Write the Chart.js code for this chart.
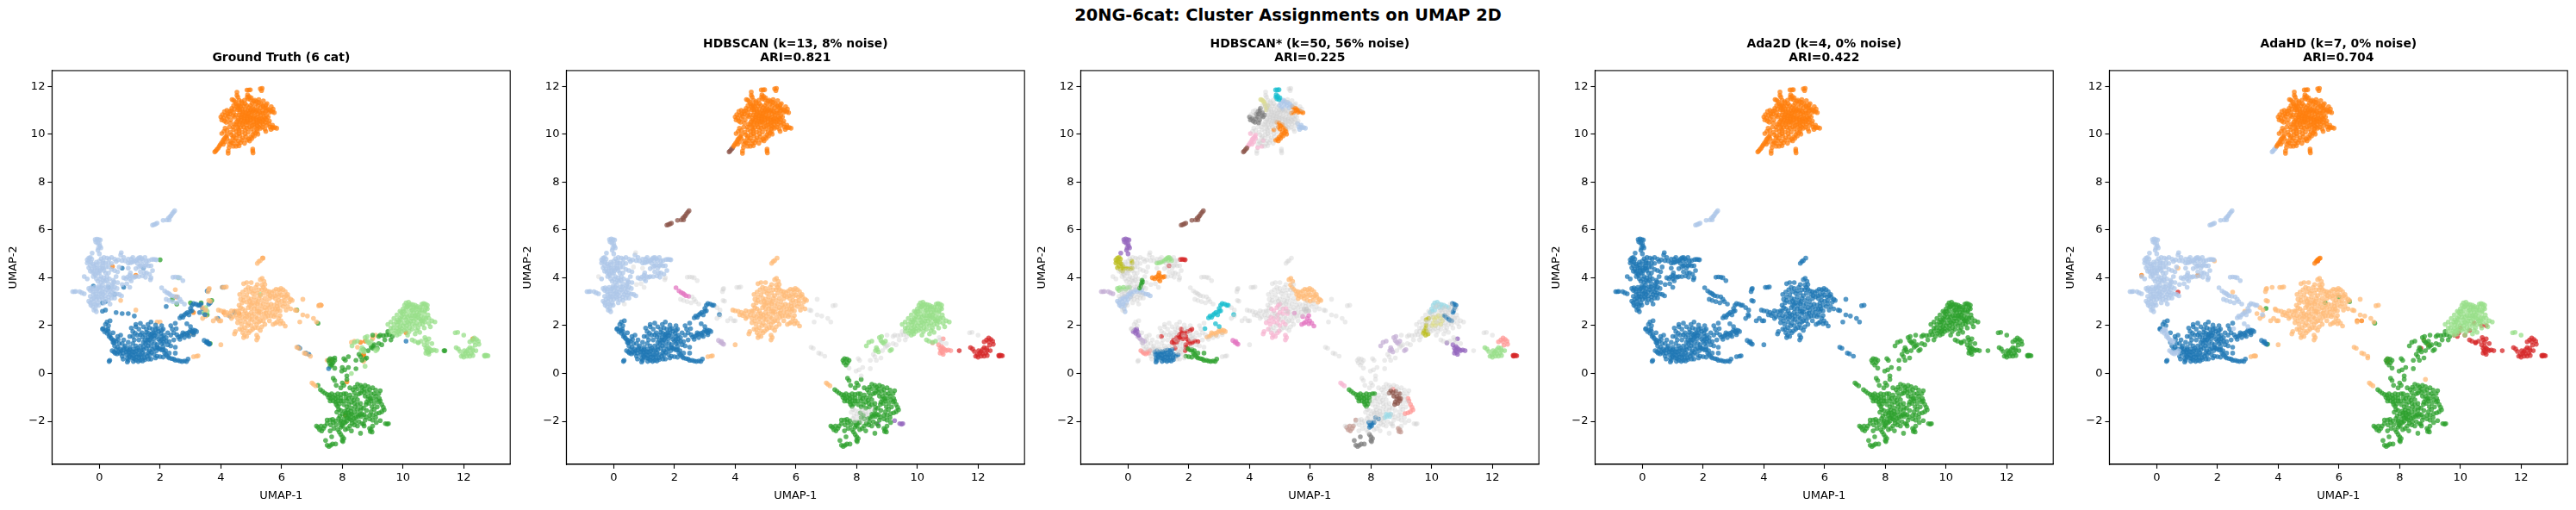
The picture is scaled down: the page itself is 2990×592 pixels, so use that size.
<!DOCTYPE html>
<html>
<head>
<meta charset="utf-8">
<script src="https://cdn.jsdelivr.net/npm/chart.js@4/dist/chart.umd.min.js"></script>
<style>
  html, body { margin: 0; padding: 0; background: #fff; }
  #page { position: relative; width: 2990px; height: 592px; overflow: hidden; }
  #page canvas { position: absolute; top: 0; }
  #suptitle { position: absolute; top: 6px; left: 0; width: 2990px; text-align: center;
    font: bold 19.4px "DejaVu Sans"; color: #000; }
</style>
</head>
<body>
<div id="page"><div id="suptitle">20NG-6cat: Cluster Assignments on UMAP 2D</div></div>
<script>
var titles = [
  ["Ground Truth (6 cat)"],
  ["HDBSCAN (k=13, 8% noise)", "ARI=0.821"],
  ["HDBSCAN* (k=50, 56% noise)", "ARI=0.225"],
  ["Ada2D (k=4, 0% noise)", "ARI=0.422"],
  ["AdaHD (k=7, 0% noise)", "ARI=0.704"]
];
var xTicks = [0, 2, 4, 6, 8, 10, 12];
var yTicks = [-2, 0, 2, 4, 6, 8, 10, 12];

// tab20
var blue = "#1f77b4", ltblue = "#aec7e8", orange = "#ff7f0e", ltorange = "#ffbb78", green = "#2ca02c",
    ltgreen = "#98df8a", red = "#d62728", salmon = "#ff9896", purple = "#9467bd", lilac = "#c5b0d5",
    brown = "#8c564b", tan = "#c49c94", orchid = "#e377c2", pink = "#f7b6d2", gray = "#7f7f7f",
    ltgray = "#c7c7c7", olive = "#bcbd22", khaki = "#dbdb8d", cyan = "#17becf", ltcyan = "#9edae5",
    noise = "noise";

// top blob
var topBrown = [[3.8,9.26],[3.83,9.3],[3.87,9.36],[3.91,9.42]];
var topPink = [[3.95,9.5],[3.98,9.56],[4.02,9.63],[4.06,9.7],[4.09,9.78],[4.13,9.84],[4.17,9.9],[4.2,9.82],[4.14,9.68],[4.08,9.58],[4.03,10.03],[4.2,9.97],[4.45,9.74],[4.41,9.5],[4.27,9.44]];
var topGray = [[4.0,10.72],[4.03,10.6],[4.08,10.67],[4.12,10.55],[4.18,10.5],[4.2,10.65],[4.25,10.75],[4.3,10.85],[4.34,10.98],[4.36,11.08],[4.28,10.95],[4.22,10.85],[4.4,10.78],[4.45,10.72],[4.33,10.6],[4.3,10.47],[4.5,10.8],[4.42,10.9]];
var topKhaki = [[4.37,11.45],[4.42,11.42],[4.47,11.36],[4.5,11.28],[4.52,11.18],[4.57,11.1],[4.6,11.2],[4.55,11.02]];
var topCyan = [[4.86,11.85],[4.92,11.85],[4.97,11.86],[4.88,11.65],[4.87,11.55],[4.9,11.48],[4.97,11.45],[4.93,11.58],[5.0,11.52]];
var topBlueA = [[4.98,11.2],[5.03,11.3],[5.08,11.38],[5.12,11.42],[5.18,11.36],[5.25,11.33],[5.32,11.28],[5.15,11.25],[5.22,11.18],[5.05,11.12],[5.1,11.05],[5.38,11.2],[5.3,11.1]];
var topBlueB = [[5.62,10.3],[5.68,10.3],[5.72,10.26],[5.78,10.28],[5.84,10.25],[5.65,10.2],[5.7,10.38],[5.58,10.45]];
var topOrangeA = [[5.4,11.15],[5.46,11.1],[5.52,11.08],[5.58,11.02],[5.64,10.98],[5.7,10.94],[5.76,10.9],[5.5,10.98],[5.6,10.92],[5.45,10.9],[5.38,10.88]];
var topOrangeB = [[4.9,10.5],[4.97,10.48],[5.02,10.36],[5.08,10.4],[4.95,10.3],[5.0,10.22],[5.12,10.28],[5.18,10.22],[5.2,10.12],[5.15,10.05],[5.22,10.0],[5.08,10.1],[5.05,9.98],[5.1,9.92],[4.98,9.88],[4.92,9.8],[4.86,9.75],[4.95,9.72],[5.02,9.82],[4.8,10.18]];
var topNoise = [[4.53,11.76],[4.53,11.62],[4.56,11.55],[5.3,11.9],[5.34,11.82],[5.36,11.92],[4.7,11.3],[4.8,11.28],[4.65,11.15],[4.75,11.18],[4.85,11.2],[4.92,11.12],[4.7,11.05],[4.8,11.04],[4.88,11.0],[4.98,11.02],[5.18,11.02],[5.25,10.98],[4.62,10.94],[4.72,10.95],[4.82,10.9],[4.92,10.88],[5.02,10.92],[5.12,10.9],[5.22,10.85],[5.32,10.8],[4.6,10.8],[4.7,10.82],[4.8,10.78],[4.9,10.76],[5.0,10.8],[5.1,10.76],[5.2,10.72],[5.3,10.68],[5.42,10.72],[5.5,10.78],[4.58,10.65],[4.68,10.68],[4.78,10.64],[4.88,10.62],[4.98,10.66],[5.08,10.62],[5.18,10.58],[5.28,10.55],[5.4,10.58],[5.5,10.6],[4.52,10.52],[4.62,10.5],[4.72,10.48],[4.82,10.5],[5.15,10.45],[5.28,10.42],[5.4,10.42],[4.55,10.32],[4.65,10.28],[4.75,10.3],[4.42,10.2],[4.5,10.12],[4.6,10.15],[4.7,10.08],[4.32,10.08],[4.35,9.98],[4.52,9.98],[4.62,9.92],[4.72,9.85],[4.4,9.85],[4.5,9.82],[4.58,9.72],[4.65,9.65],[4.55,9.6],[4.3,9.72],[4.24,9.3],[4.24,9.2],[5.05,9.38],[5.05,9.3],[5.06,9.22],[5.3,10.25],[5.25,10.3]];
var topExtra = [[4.58,11.22],[4.68,11.36],[4.78,11.42],[4.6,11.42],[4.42,11.2],[4.45,11.05],[4.15,10.8],[4.12,10.95],[4.05,10.82],[4.2,11.0],[4.62,11.02],[4.74,10.88],[4.86,10.84],[4.96,10.96],[5.06,10.98],[5.16,10.96],[5.28,10.9],[5.38,10.98],[4.66,10.74],[4.76,10.7],[4.86,10.7],[4.96,10.72],[5.06,10.7],[5.16,10.66],[5.26,10.62],[5.36,10.64],[5.46,10.66],[5.56,10.72],[5.6,10.55],[4.56,10.58],[4.66,10.58],[4.76,10.55],[4.86,10.55],[4.98,10.58],[5.08,10.52],[5.2,10.5],[5.34,10.5],[5.46,10.5],[5.52,10.38],[4.44,10.42],[4.5,10.4],[4.6,10.4],[4.72,10.4],[4.85,10.38],[5.2,10.36],[5.38,10.3],[4.4,10.3],[4.28,10.3],[4.14,10.25],[4.2,10.15],[4.1,10.12],[4.58,10.22],[4.86,10.25],[4.9,10.08],[4.8,10.02],[4.6,10.02],[4.42,9.92],[4.28,9.58],[4.34,9.65],[4.4,9.62],[4.5,9.5],[4.6,9.52],[4.7,9.75],[4.78,9.62],[4.82,9.9],[5.45,10.22],[5.48,10.12],[5.25,11.45],[5.4,11.4],[5.52,11.28],[5.66,11.15],[5.72,11.05],[5.48,11.22]];

var frag = [[1.75,6.2],[1.8,6.22],[1.85,6.25],[1.9,6.28],[2.1,6.4],[2.22,6.42],[2.28,6.5],[2.33,6.55],[2.36,6.6],[2.4,6.68],[2.44,6.74],[2.48,6.8],[2.3,6.42]];

// left cluster
var lPurple = [[-0.14,5.6],[-0.08,5.62],[-0.02,5.6],[0.03,5.58],[-0.12,5.5],[-0.06,5.45],[0,5.42],[0.02,5.32],[0.05,5.25],[-0.03,5.25],[0,5.0],[-0.24,5.03],[-0.05,5.15]];
var lOlive = [[-0.4,4.75],[-0.35,4.82],[-0.3,4.85],[-0.25,4.78],[-0.4,4.62],[-0.35,4.68],[-0.28,4.65],[-0.22,4.58],[-0.18,4.5],[-0.3,4.5],[-0.35,4.42],[-0.15,4.42],[-0.08,4.4],[0,4.38],[0.08,4.38],[0.13,4.4],[-0.25,4.35],[-0.18,4.28],[0.12,4.7],[0.13,4.62]];
var lGreenA = [[0.95,4.62],[1.02,4.63],[1.08,4.65],[1.15,4.68],[1.2,4.72],[1.25,4.78],[1.3,4.83],[1.35,4.85],[1.4,4.8],[1.32,4.72],[1.44,4.72]];
var lRed = [[1.72,4.76],[1.78,4.77],[1.84,4.76],[1.88,4.75],[1.35,4.5]];
var lOrange = [[0.8,4.0],[0.87,3.96],[0.93,4.03],[1.0,4.1],[1.02,4.2],[1.08,4.05],[1.15,4.02],[1.2,4.05],[1.0,3.95],[1.05,3.87]];
var lGreenDark = [[0.46,3.9],[0.48,3.82],[0.44,3.75],[0.42,3.66],[0.38,3.57]];
var lGreenB = [[-0.35,3.55],[-0.28,3.58],[-0.22,3.52],[-0.15,3.6],[-0.08,3.52],[-0.02,3.58],[0.05,3.6],[-0.3,3.47]];
var lLilac = [[-0.88,3.42],[-0.82,3.42],[-0.78,3.43],[-0.65,3.42],[-0.58,3.37],[-0.5,3.33]];
var lBlue = [[-0.35,3.02],[-0.3,2.95],[-0.25,3.1],[-0.2,3.0],[-0.28,2.85],[-0.22,2.8],[-0.15,2.9],[-0.1,3.1],[-0.05,3.2],[-0.12,3.22],[-0.18,3.15],[0,3.3],[0.05,3.35],[0.1,3.42],[0.18,3.4],[0.25,3.5],[0.3,3.42],[0.4,3.4],[0.5,3.35],[0.58,3.32],[0.66,3.3],[0.73,3.24],[0.45,3.5],[-0.1,2.85],[-0.05,2.95],[-0.13,2.7],[-0.1,2.58],[0.12,3.3],[0.08,3.2],[0,3.1]];
var lNoise = [[-0.1,4.65],[0,4.7],[0.06,4.8],[0.15,4.85],[0.25,4.82],[0.32,4.78],[0.4,4.85],[0.5,4.78],[0.55,4.68],[0.62,4.75],[0.7,4.95],[0.74,4.72],[0.8,4.85],[0.85,4.7],[1.5,4.5],[1.55,4.55],[1.62,4.5],[1.7,4.5],[1.75,4.3],[1.45,4.4],[1.3,4.45],[1.2,4.38],[1.55,4.2],[1.65,4.15],[0.3,4.45],[0.4,4.35],[0.5,4.3],[0.6,4.25],[0.3,4.2],[0.2,4.2],[0.25,4.05],[0.33,3.95],[0.15,4.0],[0.05,4.05],[0,4.2],[-0.05,3.85],[0.05,3.8],[0.1,3.7],[0.18,3.85],[0.3,3.75],[-0.02,3.65],[-0.4,3.95],[-0.12,4.1],[-0.05,4.2],[0.55,4.05],[0.6,3.8],[0.12,3.55],[0.22,3.62],[0.5,3.62],[0.58,3.55],[-0.1,3.45],[-0.2,3.3],[-0.3,3.22],[0.3,3.2],[0.4,3.15],[0.2,3.1]];
var lFringe = [[0.9,3.75],[1.0,3.6],[0.75,3.72],[-0.5,4.05],[1.7,4.0],[1.68,3.92],[0.35,2.9],[0.72,5.05],[0.95,4.4],[0.65,4.45]];
var lExtra = [[-0.3,4.28],[-0.22,4.22],[-0.15,4.15],[-0.2,4.05],[-0.1,3.95],[0.02,3.95],[0.12,3.9],[0.24,3.9],[-0.08,4.3],[0.03,4.3],[0.15,4.3],[0.22,4.45],[0.1,4.5],[0.02,4.55],[-0.1,4.55],[0.2,4.62],[0.3,4.62],[0.4,4.6],[0.95,4.78],[1.05,4.78],[1.1,4.85],[1.55,4.7],[1.62,4.72],[1.5,4.85],[1.25,4.6],[1.4,4.55],[1.48,4.2],[1.35,4.25],[1.3,4.05],[1.42,4.08],[1.52,4.02],[0.0,3.45],[-0.12,3.32],[0.2,3.25],[0.35,3.3],[0.45,3.28],[0.3,3.05],[0.15,2.95],[-0.02,2.85],[-0.18,2.65],[-0.22,3.42],[0.1,3.12],[0.5,3.15],[0.28,3.62]];

var stripOrchid = [[2.05,3.58],[2.15,3.45],[2.22,3.38],[2.28,3.35],[2.32,3.3],[2.38,3.25],[2.47,3.22]];
var stripNoise = [[2.42,4.02],[2.5,4.03],[2.58,4.02],[2.65,4.0],[2.75,3.88],[2.58,3.2],[2.65,3.1],[2.7,3.0],[2.2,3.1],[2.3,3.05],[2.42,3.0],[2.55,2.95],[2.8,2.9]];
var link = [[3.6,3.52],[3.62,3.55],[3.58,3.42],[3.6,3.05],[3.65,3.02],[4.05,3.6],[4.12,3.6],[4.18,3.62],[3.75,2.2],[3.95,2.2],[3.85,2.3],[4.0,2.2],[3.4,2.75],[3.5,2.65],[3.5,2.4],[3.4,2.3]];
var lowerLink = [[3.45,1.38],[3.52,1.3],[3.58,1.25],[3.62,1.22],[3.55,1.34]];
var tail = [[3.1,0.7],[3.2,0.72],[3.25,0.74],[4.0,1.2]];
var orphan = [[5.2,4.6],[5.25,4.68],[5.3,4.72],[5.38,4.82]];
var fringe = [[6.45,2.65],[6.5,2.63],[6.7,2.45],[6.6,2.15],[6.85,2.4],[7.05,2.3],[7.15,2.15],[7.22,2.83],[7.3,2.85],[6.7,3.1],[6.5,1.1],[6.57,1.05],[6.75,0.85],[6.82,0.82],[6.95,0.72]];

// blue cluster
var bCyan = [[2.65,2.32],[2.7,2.4],[2.75,2.35],[2.8,2.45],[2.85,2.5],[2.9,2.55],[2.95,2.45],[3.0,2.6],[3.05,2.62],[3.0,2.72],[3.05,2.85],[3.1,2.92],[3.18,2.9],[3.25,2.85],[3.3,2.85],[2.53,1.87],[3.0,1.96],[2.88,2.08],[3.48,2.46]];
var bTan = [[2.6,1.52],[2.67,1.55],[2.73,1.6],[2.8,1.65],[2.88,1.68],[2.95,1.72],[3.0,1.8],[3.08,1.82],[3.15,1.8],[3.2,1.75],[3.1,1.7],[2.9,1.6],[3.05,1.75],[2.75,1.7]];
var bGreen = [[1.98,1.03],[2.05,0.98],[2.1,1.0],[2.18,0.95],[2.15,0.85],[2.2,0.78],[2.25,0.7],[2.3,0.65],[2.38,0.62],[2.45,0.6],[2.5,0.55],[2.58,0.55],[2.65,0.52],[2.72,0.5],[2.8,0.52],[2.87,0.5],[2.92,0.6],[1.9,0.72],[2.0,0.7],[2.1,0.68],[2.5,0.85],[2.3,0.85]];
var bBlue = [[0.88,0.9],[0.95,0.95],[1.0,0.88],[1.08,0.92],[1.15,0.9],[1.22,0.95],[1.3,0.98],[1.38,0.96],[1.45,1.0],[0.9,0.78],[0.98,0.75],[1.05,0.8],[1.12,0.75],[1.2,0.8],[1.28,0.82],[1.35,0.78],[1.42,0.85],[1.5,0.8],[0.92,0.62],[1.0,0.68],[1.08,0.65],[1.15,0.62],[1.22,0.68],[1.3,0.66],[1.38,0.68],[1.48,0.66],[1.58,0.72],[1.65,0.78],[0.92,0.48],[0.95,0.55],[1.12,0.5],[1.2,0.55],[1.28,0.5],[1.35,0.55],[1.42,0.52],[1.5,0.58]];
var bRed = [[1.45,1.3],[1.52,1.25],[1.6,1.3],[1.65,1.4],[1.7,1.5],[1.75,1.55],[1.72,1.65],[1.68,1.6],[1.78,1.7],[1.75,1.85],[1.85,1.7],[1.9,1.55],[1.95,1.42],[2,1.35],[2.05,1.25],[2.12,1.3],[2.2,1.35],[2.3,1.33],[1.9,1.2],[1.9,1.1],[1.95,1.05],[1.88,0.95],[1.8,1.45],[1.95,1.75],[2.05,1.8],[2.1,1.85],[1.6,1.5],[1.5,1.4],[1.1,1.55],[1.55,1.05]];
var bPurple = [[0.17,1.75],[0.22,1.82],[0.28,1.85],[0.3,1.75],[0.25,1.68],[0.35,1.6]];
var bLilac = [[0.32,1.55],[0.38,1.48],[0.42,1.42],[0.48,1.38],[0.55,1.35],[0.48,1.28]];
var bSalmon = [[0.42,0.95],[0.48,0.9],[0.52,0.85],[0.58,0.82],[0.63,0.9],[0.68,0.85],[0.72,0.95]];
var bNoise = [[0.32,0.5],[0.34,0.55],[0.1,1.85],[0.12,1.88],[0.35,2.2],[0.25,2.15],[0.2,2.05],[0.3,2.0],[0.45,1.7],[0.6,1.55],[0.65,1.25],[0.6,1.1],[0.75,1.25],[0.8,1.4],[0.85,1.15],[1.0,1.1],[1.1,1.25],[1.2,1.15],[1.3,1.4],[1.25,1.6],[1.1,1.75],[1.05,1.9],[1.2,1.95],[1.3,1.85],[1.4,1.7],[1.35,2.1],[1.2,2.05],[1.45,1.95],[1.55,1.85],[1.6,2.05],[1.7,2.15],[2.05,1.55],[2.25,1.7],[2.35,1.6],[2.45,1.4],[2.5,1.1],[2.35,1.15],[2.35,2.0],[2.5,2.1],[2.4,1.85],[1.35,1.15],[1.7,1.15],[0.95,1.3],[0.7,1.6],[1.5,1.6],[1.0,1.55],[1.15,1.4],[0.9,1.0],[1.75,1.0],[1.65,0.95],[1.8,0.8],[1.7,0.6],[2.05,2.0],[1.85,2.02],[0.78,0.6],[0.75,0.72]];
var bExtra = [[0.5,1.15],[0.55,1.0],[0.68,1.02],[0.8,1.0],[0.78,0.85],[0.82,1.08],[0.45,1.3],[0.62,1.42],[1.0,1.0],[1.12,1.02],[1.25,1.05],[1.45,1.12],[1.6,1.15],[1.62,0.88],[1.72,0.88],[1.82,1.05],[1.58,1.4],[1.42,1.52],[1.35,1.62],[1.18,1.68],[1.62,1.68],[1.55,1.72],[1.82,1.6],[1.85,1.85],[1.65,1.9],[1.92,1.88],[2.02,1.68],[2.12,1.6],[2.2,1.5],[2.05,1.42],[2.12,1.45],[2.25,1.2],[2.1,1.12],[1.82,1.25],[1.72,1.32],[1.62,0.6],[1.85,0.65],[2.65,1.42],[2.8,1.5],[2.55,1.62],[2.45,1.7],[2.95,1.55],[3.1,1.62]];

// light orange cluster
var cOrange = [[5.3,3.92],[5.36,3.98],[5.42,3.85],[5.35,3.7],[5.4,3.6],[5.45,3.52],[5.52,3.45],[5.6,3.42],[5.68,3.38],[5.75,3.45],[5.82,3.52],[5.9,3.5],[5.98,3.55],[6.05,3.5],[6.12,3.42],[5.55,3.3],[5.62,3.25],[5.7,3.2],[5.78,3.25],[5.85,3.3],[5.92,3.22],[6,3.28],[6.08,3.2],[6.15,3.25],[6.22,3.18],[6.3,3.1],[6.35,3.05],[5.8,3.12],[5.9,3.05],[6,3.02],[6.1,3.05],[6.25,2.98],[5.95,3.4],[6.2,3.3],[5.6,3.12]];
var cPink = [[5.0,2.9],[4.95,2.85],[4.9,2.75],[4.8,2.62],[4.72,2.7],[5.1,2.7],[5.2,2.72],[5.25,2.6],[5.25,2.5],[5.1,2.5],[5.0,2.55],[4.92,2.45],[4.8,2.3],[4.7,2.35],[4.65,2.2],[4.55,2.12],[4.68,2.05],[4.8,2.15],[4.92,2.1],[5.0,2.0],[5.1,2.15],[5.18,2.05],[4.95,2.28],[4.62,1.85],[4.48,1.75],[4.45,1.65],[4.72,1.7],[4.78,1.6],[4.85,1.55],[4.92,1.7],[4.98,1.78],[4.75,1.5],[5.18,1.4],[5.22,1.5],[5.18,1.6]];
var cOrchid = [[5.72,2.05],[5.8,2.1],[5.85,2.15],[5.9,2.3],[5.95,2.42],[5.98,2.2],[6.05,2.1],[6.12,1.98],[5.95,2.08],[5.75,2.38],[5.48,2.52]];
var cGray = [[5.8,2.68],[5.88,2.7],[5.95,2.62],[5.85,2.6]];
var cNoise = [[3.92,2.65],[4.0,2.62],[4.1,2.6],[4.2,2.55],[4.3,2.5],[4.35,2.62],[4.45,2.58],[4.5,2.45],[4.4,2.38],[4.55,2.3],[4.6,2.6],[4.65,2.75],[4.6,2.85],[4.7,2.95],[4.65,3.1],[4.75,3.2],[4.62,3.3],[4.72,3.4],[4.85,3.3],[4.9,3.15],[5,3.1],[5.1,3.2],[5.15,3.05],[5.25,3.15],[5.3,3.25],[5.2,3.35],[5.1,3.45],[5,3.55],[4.9,3.6],[4.82,3.5],[5.25,3.5],[4.75,3.75],[4.85,3.8],[5.35,3.05],[5.4,2.9],[5.45,2.75],[5.5,2.65],[5.55,2.85],[5.65,2.9],[5.75,2.85],[5.7,2.7],[5.6,2.55],[5.55,2.4],[5.35,2.35],[5.4,2.2],[5.45,2.05],[5.35,1.95],[5.3,2.2],[5.6,2.2],[5.2,2.3],[5.3,1.8],[5.05,1.85],[6.05,2.8],[6.15,2.65],[6.3,2.7],[5.0,3.8],[5.85,2.95],[5.5,3.0]];
var cExtra = [[4.75,3.05],[4.85,2.98],[4.95,3.02],[5.05,2.95],[5.2,2.92],[5.3,2.85],[5.22,3.0],[5.12,2.85],[5.35,2.7],[5.3,2.55],[5.42,2.5],[5.48,2.35],[5.2,2.6],[5.0,2.72],[4.85,2.5],[4.75,2.5],[4.62,2.42],[4.85,2.38],[5.02,2.4],[5.15,2.35],[5.02,2.25],[5.25,2.15],[4.88,2.0],[4.78,1.92],[4.7,1.85],[4.85,1.78],[5.12,1.92],[5.22,1.9],[5.65,2.4],[5.7,2.55],[5.8,2.45],[5.85,2.8],[5.95,2.85],[6.1,2.92],[5.6,2.75],[6.2,2.8],[5.45,3.15],[5.4,3.35],[5.35,3.5],[5.45,3.72],[5.05,3.35],[4.95,3.42],[5.15,3.6],[5.2,3.72],[4.55,2.62],[4.25,2.42],[4.15,2.45],[4.35,2.3]];

// light green cluster
var dCyan = [[9.95,2.55],[10.0,2.7],[10.05,2.85],[10.1,2.95],[10.18,2.98],[10.25,2.9],[10.32,2.88],[10.4,2.85],[10.48,2.8],[10.55,2.75],[10.15,2.8],[10.25,2.75],[10.1,2.65],[10.02,2.6],[10.35,2.75]];
var dBlueA = [[10.68,2.92],[10.74,2.9],[10.8,2.85],[10.76,2.75],[10.72,2.62],[10.7,2.55]];
var dBlueB = [[10.42,2.42],[10.48,2.35],[10.55,2.28],[10.6,2.22],[10.66,2.2]];
var dKhaki = [[10.0,2.0],[10.05,2.1],[10.1,2.25],[10.15,2.35],[10.22,2.42],[10.28,2.3],[10.35,2.2],[10.2,2.1],[10.12,2.0],[10.3,2.05],[10.38,2.4],[10.05,2.35]];
var dOlive = [[9.72,1.68],[9.75,1.78],[9.8,1.88],[9.84,1.75],[9.88,1.65],[9.8,1.6],[9.82,2.02],[9.82,2.25],[9.9,2.3]];
var dNoise = [[9.5,2.05],[9.6,2.15],[9.7,2.3],[9.8,2.45],[9.9,2.6],[9.95,2.25],[10.45,2.55],[10.55,2.55],[10.62,2.65],[10.45,2.1],[10.55,2.05],[10.65,2.05],[10.75,2.3],[10.85,2.3],[10.95,2.2],[11.05,2.15],[10.85,2.1],[10.9,1.95],[10.7,1.9],[10.6,2.4],[9.6,1.9],[9.6,1.75],[9.68,1.9],[9.95,1.75],[10.05,1.8],[10.2,1.75],[10.3,1.85],[10.4,1.65],[10.5,1.9],[10.8,2.7],[10.65,2.8],[10.55,2.65],[10.35,2.55],[10.25,2.6],[9.85,2.15],[10.7,2.35],[10.15,1.6],[9.9,1.95]];
var dExtra = [[9.7,2.05],[9.78,2.15],[9.92,2.12],[9.95,2.4],[10.0,2.48],[10.12,2.48],[10.3,2.65],[10.42,2.68],[10.5,2.45],[10.3,2.42],[10.42,2.28],[10.25,2.2],[10.15,2.15],[10.4,2.0],[10.22,1.92],[10.1,1.88],[9.95,1.88],[9.88,1.8],[10.45,1.8],[10.55,1.72],[10.6,2.2],[10.72,2.15],[10.82,2.45],[10.12,2.78],[10.2,2.85],[10.42,2.75],[10.62,2.9]];
var dLow = [[10.3,1.4],[10.38,1.35],[10.5,1.3],[10.6,1.35],[10.72,1.5],[10.75,1.4],[10.8,1.3],[10.95,1.25]];

// far right
var ePurple = [[10.85,1.45],[10.5,1.28],[10.7,1.2],[10.75,1.05],[10.8,1.12],[10.85,1.05],[10.9,1.0],[10.78,0.95],[10.82,0.88],[10.75,0.85],[10.95,0.95],[11.02,0.98],[11.1,0.95],[10.85,0.8]];
var eFar = [[11.38,0.95]];
var eNoise = [[11.72,1.7],[11.8,1.72],[12.0,1.6]];
var eGreen = [[11.92,0.72],[11.98,0.78],[12.05,0.85],[12.1,0.92],[12.15,1.0],[12.2,1.08],[12.28,1.05],[12.3,0.95],[12.25,0.85],[12.15,0.82],[12.1,0.72],[12.2,0.72],[12.3,0.75],[12.0,0.68],[11.75,1.08],[11.82,1.02],[12.02,0.95],[11.88,0.92],[12.4,0.95]];
var eSalmon = [[12.2,1.32],[12.28,1.4],[12.35,1.48],[12.42,1.42],[12.48,1.35],[12.5,1.22],[12.35,1.32],[12.38,1.18]];
var eRed = [[12.68,0.75],[12.72,0.76],[12.76,0.75],[12.8,0.74],[12.7,0.72]];

// bridge
var fLilac = [[8.32,1.15],[8.4,1.3],[8.5,1.35],[8.62,0.95],[8.68,1.0],[8.72,0.9],[8.65,1.08],[8.75,1.5],[8.8,1.38],[8.85,1.3],[8.9,1.25],[8.95,1.35],[8.82,1.55],[9.1,0.95],[9.15,1.0]];
var fNoise = [[9.2,1.55],[9.25,1.6],[9.35,1.58],[9.45,1.6],[9.55,1.62],[9.65,1.55],[9.0,1.15],[9.05,1.2],[9.2,1.25],[9.3,1.2],[8.95,1.1],[8.85,0.95],[9.4,1.4],[9.0,1.6],[9.5,1.75],[9.6,1.4]];
var gap = [[7.55,0.55],[7.6,0.62],[7.68,0.6],[7.75,0.55],[7.58,0.45],[7.65,0.35],[7.7,0.45]];
var gapNoise = [[8.05,0.62],[8.1,0.55],[8.45,0.55],[8.55,0.8],[8.6,0.7],[8.65,0.55],[8.2,0.25],[8.08,0.15],[7.98,0.1],[7.75,0.22],[8.45,0.2],[8.15,-0.1],[8.8,0.65]];

// green cluster
var gGreen = [[7.28,-0.68],[7.35,-0.75],[7.42,-0.82],[7.5,-0.88],[7.58,-0.9],[7.65,-0.85],[7.75,-0.9],[7.85,-0.85],[7.95,-0.88],[8.05,-0.85],[8.12,-0.85],[7.55,-1.0],[7.62,-1.05],[7.7,-1.0],[7.78,-1.05],[7.85,-1.0],[7.95,-1.02],[7.6,-1.15],[7.7,-1.15],[7.78,-1.2],[7.85,-1.15],[7.95,-1.15],[7.8,-1.3],[7.85,-1.38],[7.9,-1.28]];
var gBrown = [[8.6,-0.82],[8.65,-0.72],[8.72,-0.8],[8.82,-0.75],[8.95,-0.85],[8.75,-0.95],[8.85,-0.95],[8.92,-1.05],[8.98,-1.05],[8.85,-1.08],[8.8,-1.2],[8.88,-1.25],[8.78,-1.3],[8.95,-1.15]];
var gSalmon = [[9.22,-1.05],[9.25,-1.15],[9.3,-1.3],[9.35,-1.42],[9.38,-1.52],[9.3,-1.6],[9.22,-1.65],[9.12,-1.68],[8.72,-0.65]];
var gCyan = [[8.45,-1.85],[8.52,-1.8],[8.58,-1.72],[8.65,-1.7],[8.62,-1.8],[8.5,-1.7]];
var gBlue = [[7.93,-2.05],[7.98,-2.15],[8.02,-2.2],[7.95,-2.25],[8.05,-2.05],[8.1,-2.05],[8.15,-1.85],[8.25,-1.9]];
var gTan = [[7.2,-2.25],[7.25,-2.35],[7.32,-2.4],[7.38,-2.3],[7.3,-2.2],[7.42,-2.2],[7.5,-1.95],[8.9,-2.3],[8.92,-2.42],[8.98,-2.45],[8.95,-2.35]];
var gGray = [[7.5,-3.0],[7.56,-3.05],[7.62,-3.0],[7.68,-2.95],[7.78,-2.95],[7.45,-2.8],[7.65,-2.65],[7.95,-2.55],[8.0,-2.65],[8.05,-2.72],[8.02,-2.85],[8.0,-2.8]];
var gPurple = [[9.42,-2.1],[9.48,-2.12],[9.52,-2.1],[9.25,-1.97],[8.7,-2.12]];
var gEdge = [[7.0,-0.4],[7.05,-0.45],[7.12,-0.52]];
var gNoise = [[7.95,-1.55],[8.0,-1.7],[8.1,-1.75],[8.2,-1.65],[8.3,-1.7],[8.2,-1.85],[8.05,-1.9],[8.15,-2.0],[8.3,-1.95],[8.35,-1.75],[8.4,-1.6],[8.5,-1.5],[8.6,-1.55],[8.7,-1.45],[8.8,-1.55],[8.95,-1.6],[9.05,-1.5],[9.15,-1.4],[9.05,-1.25],[9.12,-1.1],[9.1,-0.95],[9.2,-0.85],[9.25,-0.72],[9.1,-0.7],[9.0,-0.6],[8.85,-0.55],[8.75,-0.5],[8.6,-0.5],[8.5,-0.45],[8.5,-0.65],[8.4,-0.8],[8.45,-0.95],[8.5,-1.1],[8.4,-1.25],[8.3,-1.2],[8.2,-1.05],[8.25,-0.9],[8.15,-1.15],[8.05,-1.3],[8.15,-1.4],[8.3,-1.45],[8.6,-1.25],[8.55,-0.85],[7.6,-1.95],[7.7,-2.05],[7.8,-2.15],[7.5,-2.1],[7.6,-2.4],[7.72,-2.3],[7.85,-2.35],[8.25,-2.2],[8.4,-2.15],[8.5,-2.2],[8.65,-2.1],[8.75,-1.95],[8.9,-1.9],[9.0,-1.95],[9.1,-1.85],[8.9,-1.75],[8.3,-2.4],[8.1,-2.35],[8.6,-2.5],[8.0,-0.4],[8.15,-0.25],[8.25,-0.6],[8.05,-0.5],[7.95,-0.6],[7.75,-0.3],[7.8,-0.5],[7.7,-0.2]];
var gExtra = [[7.88,-1.5],[7.82,-1.62],[7.92,-1.78],[7.88,-1.88],[7.95,-1.98],[8.08,-1.58],[8.18,-1.52],[8.28,-1.58],[8.12,-1.65],[8.22,-1.75],[8.38,-1.88],[8.42,-2.02],[8.32,-2.08],[8.55,-2.02],[8.72,-1.72],[8.78,-1.82],[8.62,-1.42],[8.5,-1.3],[8.42,-1.4],[8.22,-1.3],[8.32,-1.02],[8.38,-1.12],[8.98,-1.4],[9.0,-1.75],[9.2,-1.2],[9.05,-0.85],[8.9,-0.68],[8.65,-0.58],[8.42,-0.58],[8.35,-0.68],[8.12,-1.0],[8.02,-1.15],[7.68,-1.92],[7.78,-1.98],[7.62,-2.15],[7.9,-2.45],[8.18,-2.3],[8.72,-2.2],[9.0,-2.2],[9.12,-2.05],[7.15,-2.2]];

// ground truth strays, drawn on top of the clusters
var gtOrange = [[0.43,4.47],[1.2,4.1],[2.54,3.2],[3.1,2.55],[4.1,2.55],[4.45,2.6],[4.6,2.5],[5.38,4.82],[7.25,2.85],[7.3,2.85],[8.6,1.3],[8.75,1.35],[8.7,0.8],[8.7,0.75],[8.1,-1.75],[8.15,-0.35],[10.1,1.7],[12.3,1.45],[7.6,0.55]];
var gtBlue = [[0.75,4.4],[0.8,3.6],[1.45,4.4],[0.3,3.6],[-0.2,3.65],[0.5,3.3],[0.1,2.95],[0.2,3.0],[0.1,2.6],[0.2,2.65],[0.55,2.55],[0.75,2.5],[0.95,2.5],[1.15,2.4],[2.2,2.8],[3.6,3.5],[3.55,3.45],[4.05,3.6],[4.1,3.6],[3.6,2.9],[3.35,2.9],[3.4,2.7],[3.3,2.55],[3.45,2.5],[3.65,2.95],[3.9,2.3],[4.3,2.4],[4.45,2.55],[3.62,1.25],[3.55,1.3],[6.55,1.1],[6.6,1.05],[6.8,0.85],[6.9,0.8],[7.55,0.2],[10.1,1.35]];
var gtGreen = [[2,4.75],[2.4,3.1],[2.55,2.9],[3,2.95],[3.35,2.95],[3.7,3.05],[3.55,2.45],[3.65,1.25],[6.5,2.65],[7.2,2.1],[7.65,0.4],[7.6,0.3],[7.75,0.65],[8.2,0.7],[8.75,0.6],[8.7,1.0],[9.0,1.05],[9.15,1.05],[10.8,0.95],[10.85,0.9],[11.35,0.95],[8.0,0.25],[7.2,-0.5]];
var gtLtGreen = [[3.5,2.75],[3.55,2.6],[3.45,2.55],[5.3,3.3],[2.6,4.0],[8.3,0.0],[8.75,0.3]];
var gtLtOrange = [[0.7,3.05],[2.5,3.5],[1.2,2.65],[1.9,2.15],[2.0,2.15],[3.1,1.65],[3.05,1.75],[3.0,1.7],[8.5,1.1],[8.3,1.3],[8.4,1.35],[9,1.5],[9.1,1.6],[9.0,1.45],[7.5,0.55],[8.7,0.5]];
// AdaHD strays
var adaRed = [[10.0,1.9],[10.15,1.6],[10.3,1.8],[10.45,2.1],[10.7,2.0],[10.85,2.0],[9.9,1.55],[9.8,1.6],[9.95,1.7],[5.3,4.7],[0.7,3.4],[8.7,1.05],[7.6,0.5]];
var adaOrange = [[-0.5,4.1],[1.35,4.1],[5.3,4.75],[5.35,4.8],[6.6,2.2],[6.75,2.2],[8.95,1.2],[7.6,0.55]];
var adaLtOrange = [[1.9,4.7],[0.7,4.4],[2.5,3.4],[2.9,2.6],[3.3,2.5],[3.8,3.6],[3.9,2.7],[3.2,0.74],[3.25,0.72],[3.1,1.7],[6.95,0.65],[8.8,1.4],[7.6,0.6],[8.85,-0.25]];
var adaGreen = [[3.65,1.22],[3.6,2.72],[5.55,2.95],[6.0,3.2],[6.35,3.0],[7.18,2.1]];

function all() { return Array.prototype.concat.apply([], arguments); }

var topAll = all(topPink, topGray, topKhaki, topCyan, topBlueA, topBlueB, topOrangeA, topOrangeB, topNoise, topExtra);
var leftInner = all(lPurple, lOlive, lGreenA, lRed, lOrange, lGreenDark, lGreenB, lLilac, lBlue, lNoise, lExtra);
var leftAll = all(leftInner, stripOrchid, stripNoise);
var blueAll = all(bCyan, bTan, bGreen, bBlue, bRed, bPurple, bLilac, bSalmon, bNoise, bExtra);
var orangeAll = all(cOrange, cPink, cOrchid, cGray, cNoise, cExtra);
var lightGreenAll = all(dCyan, dBlueA, dBlueB, dKhaki, dOlive, dNoise, dExtra);
var farAll = all(eGreen, eSalmon, eRed);
var greenAll = all(gGreen, gBrown, gSalmon, gCyan, gBlue, gTan, gGray, gPurple, gNoise, gExtra);

// which colour each group of points gets in each panel
var panels = [
  [[topAll.concat(topBrown), orange], [frag, ltblue], [leftAll.concat(lFringe), ltblue], [blueAll.concat(lowerLink), blue],
   [orangeAll.concat(orphan, fringe, link, tail), ltorange], [lightGreenAll.concat(dLow, farAll, ePurple, eNoise, fLilac), ltgreen],
   [greenAll.concat(gap, fNoise, gapNoise, eFar), green], [gEdge, ltorange],
   [gtLtOrange, ltorange], [gtLtGreen, ltgreen], [gtBlue, blue], [gtGreen, green], [gtOrange, orange]],

  [[all(stripNoise, lFringe, fringe, fNoise, gapNoise, gNoise.slice(0, 12), gExtra.slice(0, 8), eNoise, link, dLow.slice(4)), noise],
   [topAll, orange], [topBrown, brown], [frag, brown], [leftInner, ltblue], [stripOrchid, orchid], [blueAll, blue],
   [orangeAll.concat(orphan, tail, gEdge), ltorange], [lightGreenAll.concat(dLow.slice(0, 4), fLilac), ltgreen],
   [ePurple, salmon], [farAll.concat(eFar), red],
   [all(gap, gGreen, gBrown, gSalmon, gCyan, gBlue, gTan, gGray, gNoise.slice(12), gExtra.slice(8)), green], [gPurple, purple], [lowerLink, lilac]],

  [[all(topNoise, topExtra, lNoise, lExtra, lFringe, stripOrchid, stripNoise, bNoise, bExtra, cNoise, cExtra, link, tail, orphan, fringe, dNoise, dExtra, dLow, eNoise, eFar, fNoise, gap, gapNoise, gNoise, gExtra, gPurple), noise],
   [topBrown, brown], [topPink, pink], [topGray, gray], [topKhaki, khaki], [topCyan, cyan], [topBlueA.concat(topBlueB), ltblue], [topOrangeA.concat(topOrangeB), orange],
   [frag, brown], [lPurple, purple], [lOlive, olive], [lGreenA.concat(lGreenB), ltgreen], [lRed, red], [lOrange, orange], [lGreenDark, green], [lLilac, lilac], [lBlue, ltblue],
   [bCyan, cyan], [bTan, ltorange], [bGreen, green], [bBlue, blue], [bRed, red], [bPurple, purple], [bLilac, lilac], [bSalmon, salmon], [lowerLink, orchid],
   [cOrange, ltorange], [cPink, pink], [cOrchid, orchid], [cGray, ltgray],
   [dCyan, ltcyan], [dBlueA.concat(dBlueB), blue], [dKhaki, khaki], [dOlive, olive], [ePurple, purple], [eGreen, ltgreen], [eSalmon, salmon], [eRed, red], [fLilac, lilac],
   [gGreen, green], [gBrown, brown], [gSalmon, salmon], [gCyan, ltcyan], [gBlue, blue], [gTan, tan], [gGray, gray], [gEdge, pink]],

  [[topAll.concat(topBrown), orange], [frag, ltblue],
   [all(leftAll, lFringe, blueAll, lowerLink, orangeAll, link, tail, orphan, fringe), blue],
   [all(lightGreenAll, dLow, farAll, ePurple, eNoise, eFar, fLilac, fNoise, gap, gapNoise, greenAll, gEdge), green]],

  [[topAll, orange], [topBrown, ltblue], [frag, ltblue], [all(leftAll, lFringe, bCyan, bPurple, bLilac, bSalmon), ltblue],
   [all(bTan, bGreen, bBlue, bRed, bNoise, bExtra, lowerLink), blue], [all(orangeAll, link, tail, fringe, gEdge), ltorange], [orphan, orange],
   [lightGreenAll, ltgreen], [all(dLow, ePurple, eFar, farAll), red], [eNoise, ltgreen],
   [all(fLilac, fNoise, gap, gapNoise, greenAll), green],
   [adaLtOrange, ltorange], [adaGreen, green], [adaOrange, orange], [adaRed, red]]
];

var plotLeft = 60.4, plotStep = 596.9, canvasWidth = 597, canvasHeight = 592;

function alphaOf(hex, a) {
  var n = parseInt(hex.slice(1), 16);
  return "rgba(" + (n >> 16) + "," + ((n >> 8) & 255) + "," + (n & 255) + "," + a + ")";
}

// matplotlib draws all four spines
var framePlugin = {
  id: "frame",
  afterDatasetsDraw: function (chart) {
    var a = chart.chartArea, c = chart.ctx;
    c.save();
    c.strokeStyle = "#000";
    c.lineWidth = 1.1;
    c.strokeRect(a.left, a.top, a.right - a.left, a.bottom - a.top);
    c.restore();
  }
};

panels.forEach(function (spec, i) {
  var el = document.createElement("canvas");
  el.width = canvasWidth;
  el.height = canvasHeight;
  el.style.left = Math.round(plotStep * i) + "px";
  el.style.width = canvasWidth + "px";
  el.style.height = canvasHeight + "px";
  document.getElementById("page").appendChild(el);

  var datasets = spec.map(function (s) {
    var isNoise = s[1] === noise;
    return {
      data: s[0].map(function (p) { return { x: p[0], y: p[1] }; }),
      backgroundColor: isNoise ? "rgba(205,205,205,0.4)" : alphaOf(s[1], 0.75),
      borderWidth: 0,
      pointRadius: 2.8
    };
  });

  new Chart(el, {
    type: "scatter",
    data: { datasets: datasets },
    plugins: [framePlugin],
    options: {
      responsive: false,
      animation: false,
      devicePixelRatio: 1,
      layout: { padding: { left: 0, right: canvasWidth - plotLeft - 531.8, top: 0, bottom: 0 } },
      plugins: {
        legend: { display: false },
        tooltip: { enabled: false },
        title: {
          display: true,
          fullSize: false,
          text: titles[i],
          color: "#000",
          font: { family: "DejaVu Sans", size: 13.9, weight: "bold", lineHeight: 1.17 },
          padding: { top: 76 - 16.3 * titles[i].length, bottom: 6 }
        }
      },
      scales: {
        x: {
          type: "linear",
          min: -1.56,
          max: 13.53,
          afterBuildTicks: function (s) { s.ticks = xTicks.map(function (v) { return { value: v }; }); },
          afterFit: function (s) { s.height = 53; },
          border: { color: "#000", width: 1.1 },
          grid: { drawOnChartArea: false, tickLength: 5, tickColor: "#000", tickWidth: 1.1 },
          ticks: { color: "#000", autoSkip: false, maxRotation: 0, padding: 3, font: { family: "DejaVu Sans", size: 13 } },
          title: { display: true, text: "UMAP-1", color: "#000", font: { family: "DejaVu Sans", size: 13 }, padding: { top: 0, bottom: 9 } }
        },
        y: {
          type: "linear",
          min: -3.8,
          max: 12.66,
          afterBuildTicks: function (s) { s.ticks = yTicks.map(function (v) { return { value: v }; }); },
          afterFit: function (s) { s.width = plotLeft; },
          border: { color: "#000", width: 1.1 },
          grid: { drawOnChartArea: false, tickLength: 5, tickColor: "#000", tickWidth: 1.1 },
          ticks: {
            color: "#000", autoSkip: false, padding: 3, font: { family: "DejaVu Sans", size: 13 },
            callback: function (v) { return v < 0 ? "\u2212" + Math.abs(v) : v; }
          },
          title: { display: true, text: "UMAP-2", color: "#000", font: { family: "DejaVu Sans", size: 13 }, padding: { top: 8, bottom: 0 } }
        }
      }
    }
  });
});
</script>
</body>
</html>
